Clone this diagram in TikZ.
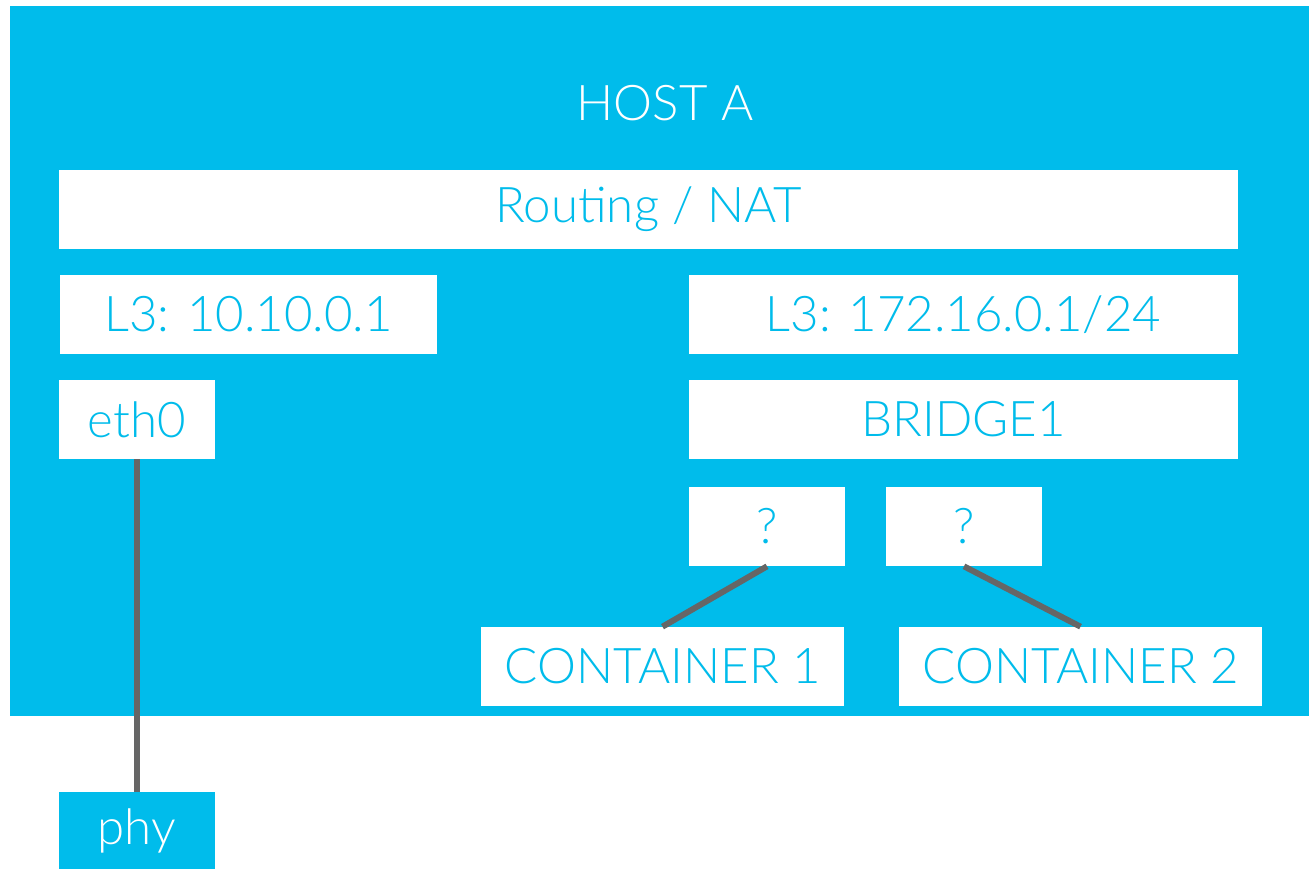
\documentclass[tikz,border=0pt]{standalone}
\usepackage{fontspec}
\IfFontExistsTF{Lato Light}{\setmainfont{Lato Light}}{\setmainfont{Lato}}
\usepackage{tikz}
\usetikzlibrary{positioning}

\definecolor{hostblue}{HTML}{00BCEB}
\definecolor{wiregray}{HTML}{666666}

\begin{document}
\begin{tikzpicture}[x=0.02cm, y=-0.02cm,
    every node/.style={font=\fontsize{28}{32}\selectfont, inner sep=0pt},
    layer/.style={fill=white, text=hostblue, minimum height=1.58cm},
    wire/.style={draw=wiregray, line width=3.4pt}]
    \useasboundingbox (0,0) rectangle (1309,869);
    \fill[hostblue] (10,6) rectangle (1309,716);
    \node[text=white] (host) at (665,103) {HOST A};
    \node[layer, minimum width=23.58cm] (nat) at (648.5,209.5) {Routing / NAT};
    \node[layer, minimum width=7.54cm] (l3a) at (248.5,314.5) {L3: 10.10.0.1};
    \node[layer, minimum width=10.98cm] (l3b) at (963.5,314.5) {L3: 172.16.0.1/24};
    \node[layer, minimum width=3.12cm] (eth) at (137,419.5) {eth0};
    \node[layer, minimum width=10.98cm] (br) at (963.5,419.5) {BRIDGE1};
    \node[layer, minimum width=3.12cm] (qa) at (767,526.5) {?};
    \node[layer, minimum width=3.12cm] (qb) at (964,526.5) {?};
    \node[layer, minimum width=7.26cm] (ca) at (662.5,666.5) {CONTAINER 1};
    \node[layer, minimum width=7.26cm] (cb) at (1080.5,666.5) {CONTAINER 2};
    \node[fill=hostblue, text=white, minimum width=3.12cm, minimum height=1.54cm] (phy) at (137,830.5) {phy};
    \draw[wire] (eth.south) -- (phy.north);
    \draw[wire] (qa.south) -- (ca.north);
    \draw[wire] (qb.south) -- (cb.north);
  \end{tikzpicture}
\end{document}
